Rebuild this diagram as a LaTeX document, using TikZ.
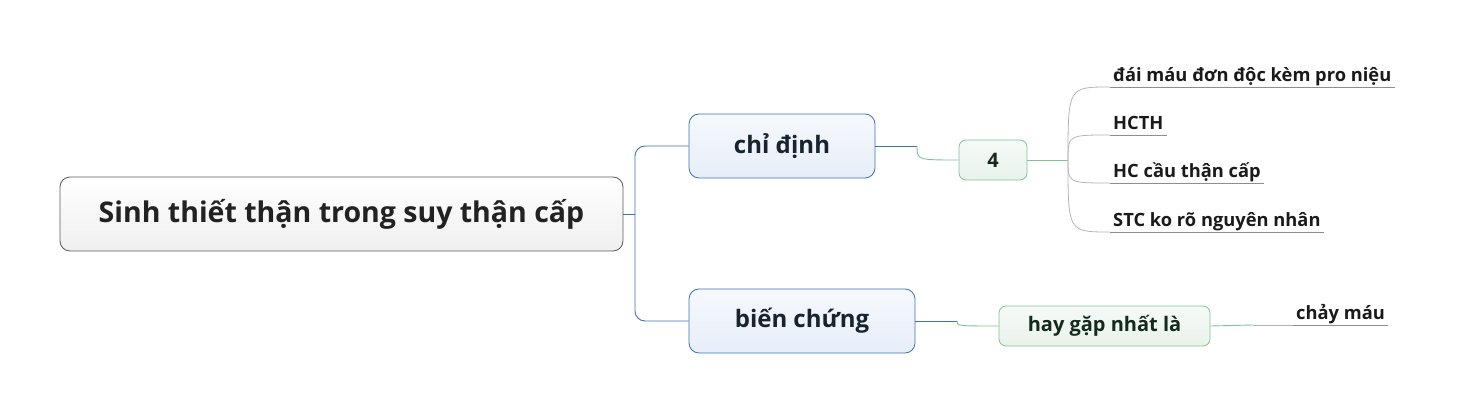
\documentclass[tikz,border=0pt]{standalone}
\usepackage{fontspec}
\setmainfont{Open Sans}
\definecolor{RootInk}{HTML}{222222}
\definecolor{RootLine}{HTML}{5A5A5A}
\definecolor{RootTop}{HTML}{FFFFFF}
\definecolor{RootBottom}{HTML}{EFEFEF}
\definecolor{TopicInk}{HTML}{17232E}
\definecolor{TopicLine}{HTML}{3C72B8}
\definecolor{TopicTop}{HTML}{F6F9FD}
\definecolor{TopicBottom}{HTML}{E7EEF8}
\definecolor{SubInk}{HTML}{142A1C}
\definecolor{SubLine}{HTML}{7DC495}
\definecolor{SubTop}{HTML}{F6FAF7}
\definecolor{SubBottom}{HTML}{E8F2EB}
\definecolor{LeafInk}{HTML}{1A1A1A}
\definecolor{LeafLine}{HTML}{B4B4B4}
\definecolor{LeafUnder}{HTML}{8E8E8E}
\tikzset{
  rootbox/.style={draw=RootLine,top color=RootTop,bottom color=RootBottom,rounded corners=10pt,line width=0.8pt,minimum width=563pt,minimum height=74pt,align=center,font=\fontsize{28.5}{32}\selectfont\bfseries,text=RootInk},
  topicbox/.style={draw=TopicLine,top color=TopicTop,bottom color=TopicBottom,rounded corners=10pt,line width=0.8pt,minimum height=64pt,align=center,font=\fontsize{24}{28}\selectfont\bfseries,text=TopicInk},
  subbox/.style={draw=SubLine,top color=SubTop,bottom color=SubBottom,rounded corners=7pt,line width=0.8pt,minimum height=40pt,align=center,font=\fontsize{20}{24}\selectfont\bfseries,text=SubInk},
  leafnode/.style={anchor=south west,inner xsep=3pt,inner ysep=1pt,text depth=4.5pt,font=\fontsize{18.3}{21}\selectfont\bfseries,text=LeafInk},
  topicline/.style={draw=TopicLine,line width=0.9pt},
  subline/.style={draw=SubLine,line width=0.9pt},
  leafline/.style={draw=LeafLine,line width=0.8pt},
  underline/.style={draw=LeafUnder,line width=0.9pt}
}
\begin{document}
\begin{tikzpicture}[x=1pt,y=-1pt]
  \useasboundingbox (0,0) rectangle (1457,414);
  % main topic and the two branches
  \node[rootbox] (root) at (341.5,214) {Sinh thiết thận trong suy thận cấp};
  \node[topicbox,minimum width=186pt] (chidinh) at (782,146) {chỉ định};
  \node[topicbox,minimum width=226pt] (bienchung) at (802,321) {biến chứng};
  \node[subbox,minimum width=68pt] (four) at (993,160) {4};
  \node[subbox,minimum width=211pt] (haygap) at (1104.5,326) {hay gặp nhất là};
  % leaves
  \node[leafnode] (daimau) at (1110,87) {đái máu đơn độc kèm pro niệu};
  \node[leafnode] (hcth) at (1110,135) {HCTH};
  \node[leafnode] (hccau) at (1110,183) {HC cầu thận cấp};
  \node[leafnode] (stc) at (1110,232) {STC ko rõ nguyên nhân};
  \node[leafnode] (chaymau) at (1293,325) {chảy máu};
  % joints
  \coordinate (rootjoin) at (635,214);
  \coordinate (chijoin) at (917,146);
  \coordinate (bienjoin) at (957,321);
  \coordinate (fourjoin) at (1068,160);
  \coordinate (hayjoin) at (1253,325);
  % connectors
  \draw[topicline] (root.east) -- (rootjoin);
  \draw[topicline,rounded corners=10pt] (rootjoin) |- (chidinh.west);
  \draw[topicline,rounded corners=10pt] (rootjoin) |- (bienchung.west);
  \draw[topicline] (chidinh.east) -- (chijoin);
  \draw[subline] (chijoin) .. controls (chijoin |- four.west) .. (four.west);
  \draw[topicline] (bienchung.east) -- (bienjoin);
  \draw[subline] (bienjoin) .. controls (bienjoin |- haygap.west) .. (haygap.west);
  \draw[subline] (four.east) -- (fourjoin);
  \foreach \leaf in {daimau,hcth,hccau,stc}{
    \draw[leafline] (fourjoin) .. controls (fourjoin |- \leaf.south west) .. (\leaf.south west);
    \draw[underline] (\leaf.south west) -- (\leaf.south east);
  }
  \draw[subline] (haygap.east) -- (hayjoin);
  \draw[leafline] (hayjoin) -- (chaymau.south west);
  \draw[underline] (chaymau.south west) -- (chaymau.south east);
\end{tikzpicture}
\end{document}
